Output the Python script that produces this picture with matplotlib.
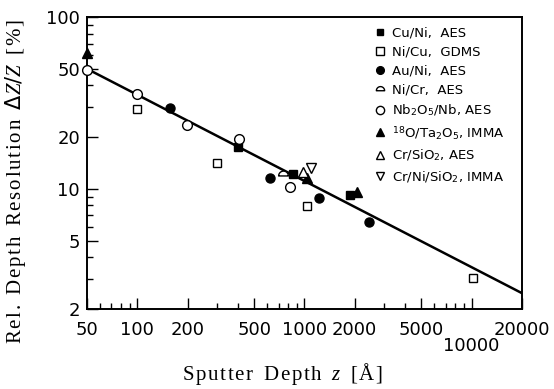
import numpy as np
import matplotlib
matplotlib.use('Agg')
import matplotlib.pyplot as plt
import matplotlib.transforms as mtransforms
from matplotlib.path import Path

plt.rcParams['font.family'] = 'DejaVu Sans'
plt.rcParams['mathtext.fontset'] = 'custom'
plt.rcParams['mathtext.rm'] = 'DejaVu Sans'
plt.rcParams['mathtext.it'] = 'Liberation Serif:italic'

# data (sputter depth in A, rel. depth resolution in %)
cu_ni_x = [400, 857, 1871]
cu_ni_y = [17.6, 12.2, 9.2]
ni_cu_x = [100, 300, 1039, 10220]
ni_cu_y = [29.0, 14.2, 7.95, 3.02]
au_ni_x = [158, 622, 1221, 2440]
au_ni_y = [29.4, 11.5, 8.9, 6.45]
ni_cr_x = [746]
ni_cr_y = [12.2]
nb_x = [50, 100, 199, 404, 818]
nb_y = [49.5, 35.6, 23.4, 19.4, 10.2]
o18_x = [50, 1039, 2069]
o18_y = [62, 11.5, 9.6]
cr_sio2_x = [975]
cr_sio2_y = [12.5]
cr_ni_x = [1089]
cr_ni_y = [13.3]

fit_x = [50, 20000]
fit_y = [50, 2.47]

xticks = [50, 100, 200, 500, 1000, 2000, 5000, 10000, 20000]
xticklabels = ['50', '100', '200', '500', '1000', '2000', '5000', '10000', '20000']
low_tick = 10000          # this label sits on a second row
yticks = [2, 5, 10, 20, 50, 100]
yticklabels = ['2', '5', '10', '20', '50', '100']


def track(s):
    # loose letter spacing like the scanned original
    return '\u200a'.join(s)


# dome shaped marker for Ni/Cr
t = np.linspace(0, np.pi, 20)
dome = Path(list(zip(np.cos(t), np.sin(t) - 0.3)) + [(1, -0.3)], closed=True)

fig = plt.figure(figsize=(5.54, 3.89), dpi=100)
ax = fig.add_axes([0.157, 0.206, 0.785, 0.750])

ax.plot(fit_x, fit_y, color='black', lw=1.8, zorder=2)

kw = dict(ls='none', color='black', mec='black', mew=1.0, zorder=3, clip_on=False)
ax.plot(cu_ni_x, cu_ni_y, marker='s', ms=5.5, mfc='black', label='Cu/Ni,  AES', **kw)
ax.plot(ni_cu_x, ni_cu_y, marker='s', ms=6, mfc='white', label='Ni/Cu,  GDMS', **kw)
ax.plot(au_ni_x, au_ni_y, marker='o', ms=6.5, mfc='black', label='Au/Ni,  AES', **kw)
ax.plot(ni_cr_x, ni_cr_y, marker=dome, ms=7, mfc='white', label='Ni/Cr,  AES', **kw)
ax.plot(nb_x, nb_y, marker='o', ms=7, mfc='white', label=r'Nb$_2$O$_5$/Nb, AES', **kw)
ax.plot(o18_x, o18_y, marker='^', ms=6.5, mfc='black', label=r'$^{18}$O/Ta$_2$O$_5$, IMMA', **kw)
ax.plot(cr_sio2_x, cr_sio2_y, marker='^', ms=6.5, mfc='white', label=r'Cr/SiO$_2$, AES', **kw)
ax.plot(cr_ni_x, cr_ni_y, marker='v', ms=6.5, mfc='white', label=r'Cr/Ni/SiO$_2$, IMMA', **kw)

ax.set_xscale('log')
ax.set_yscale('log')
ax.set_xlim(50, 20000)
ax.set_ylim(2, 100)
ax.set_xticks(xticks)
ax.set_xticklabels(['' if v == low_tick else s for v, s in zip(xticks, xticklabels)])
ax.set_yticks(yticks)
ax.set_yticklabels(yticklabels)

for s in ax.spines.values():
    s.set_linewidth(1.4)
ax.tick_params(which='both', direction='in', top=False, right=False, labelsize=13, width=1.0)
ax.tick_params(which='major', length=8)
ax.tick_params(which='minor', length=4.5)
ax.tick_params(axis='x', pad=9)
ax.tick_params(axis='y', pad=5)

# second-row label for 10000
trans = mtransforms.blended_transform_factory(ax.transData, ax.transAxes)
ax.text(low_tick, -0.095, xticklabels[xticks.index(low_tick)], transform=trans,
        ha='center', va='top', fontsize=13)

xl = track('Sputter') + '  ' + track('Depth') + '  $z$  ' + track('[Å]')
yl = (track('Rel.') + '  ' + track('Depth') + '  ' + track('Resolution')
      + r'  $\mathit{ΔZ/Z}$  ' + track('[%]'))
ax.set_xlabel(xl, family='Liberation Serif', fontsize=15)
ax.set_ylabel(yl, family='Liberation Serif', fontsize=15)
ax.xaxis.set_label_coords(0.45, -0.18)
ax.yaxis.set_label_coords(-0.135, 0.435)

ax.legend(loc='upper left', bbox_to_anchor=(0.65, 0.985), frameon=False, fontsize=9.5,
          handlelength=0.8, handletextpad=0.5, labelspacing=0.45, borderaxespad=0.0,
          markerscale=0.85)

fig.savefig('out.png', dpi=100)
